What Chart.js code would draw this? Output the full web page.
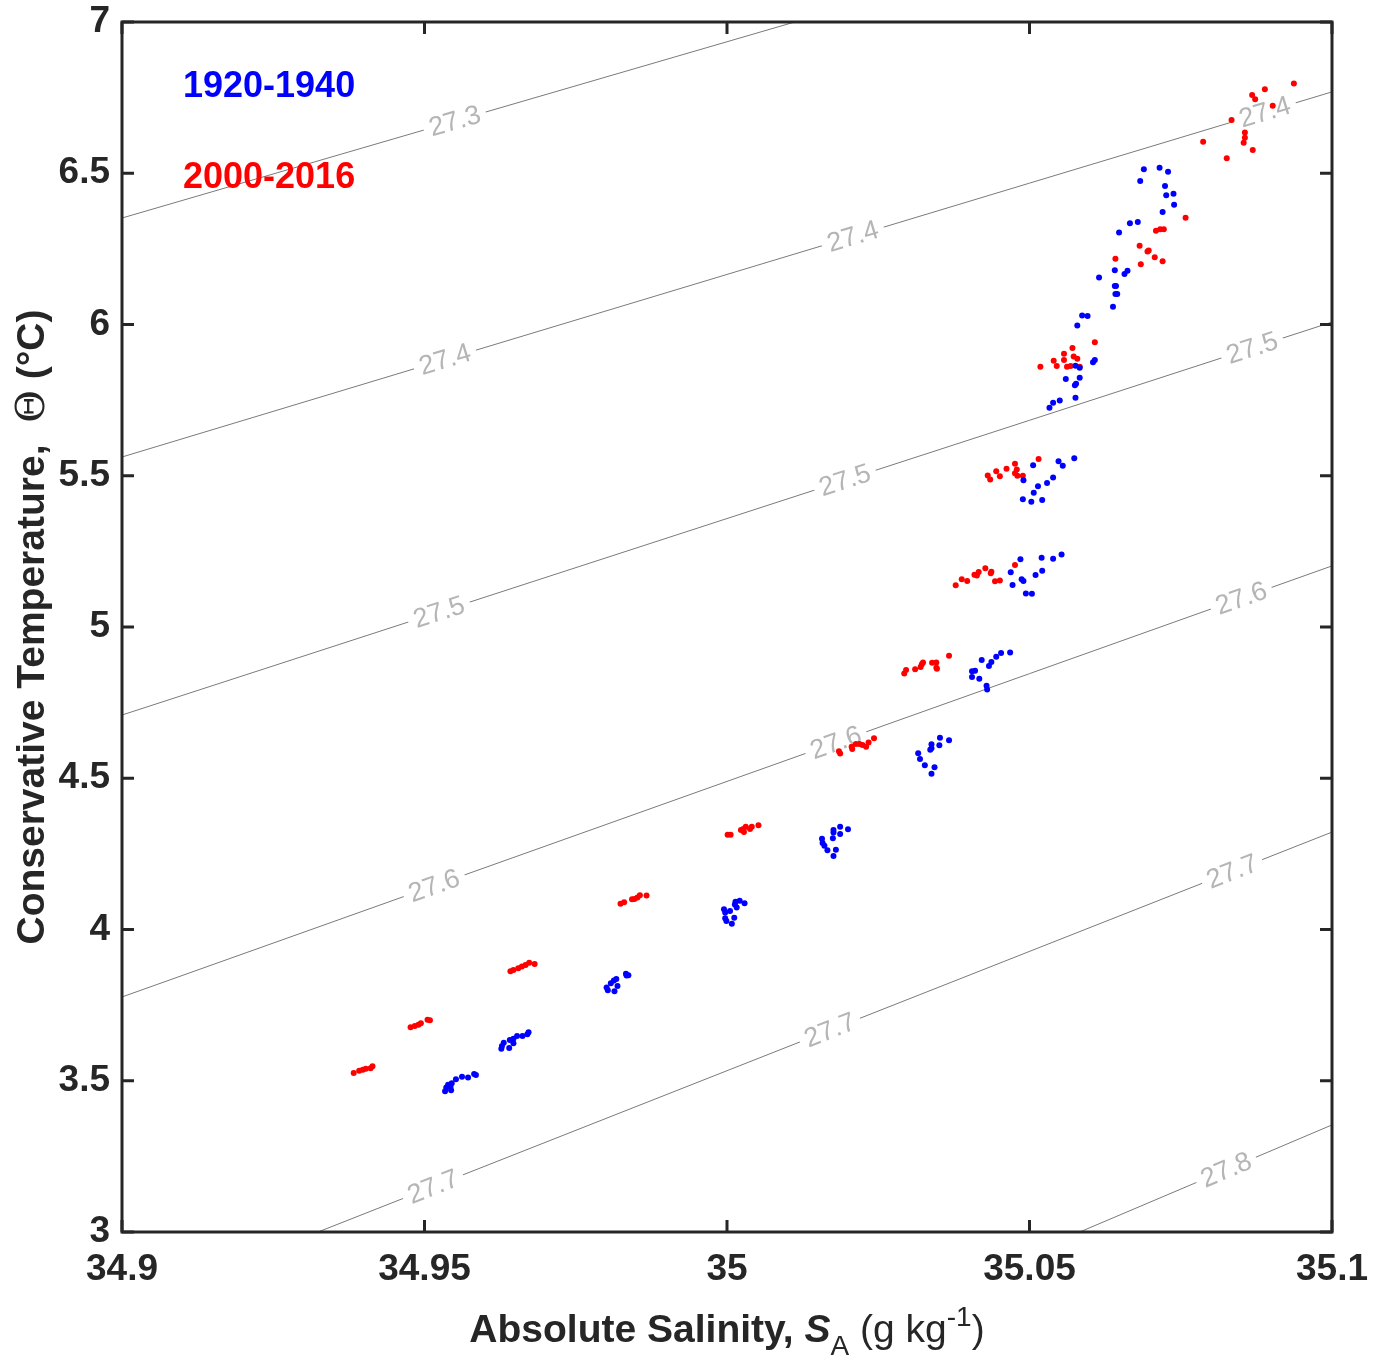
<!DOCTYPE html>
<html>
<head>
<meta charset="utf-8">
<script src="https://cdn.jsdelivr.net/npm/chart.js@4.4.0/dist/chart.umd.min.js"></script>
<style>
  body { margin: 0; background: #fff; }
  canvas { display: block; }
</style>
</head>
<body>
<canvas id="tsChart" width="1384" height="1361"></canvas>
<script>
// axis ticks
const xTickValues = [34.9, 34.95, 35, 35.05, 35.1];
const xTickLabels = ['34.9', '34.95', '35', '35.05', '35.1'];
const yTickValues = [3, 3.5, 4, 4.5, 5, 5.5, 6, 6.5, 7];
const yTickLabels = ['3', '3.5', '4', '4.5', '5', '5.5', '6', '6.5', '7'];

// 1920-1940 profiles (blue)
const blueS = [
  35.0689, 35.0715, 35.0729, 35.0683, 35.0724, 35.0726, 35.0738, 35.0739, 35.0720, 35.0679, 35.0666, 35.0648,
  35.0641, 35.0662, 35.0657, 35.0615, 35.0641, 35.0643, 35.0642, 35.0645, 35.0638, 35.0587, 35.0596, 35.0579,
  35.0608, 35.0605, 35.0576, 35.0583, 35.0583, 35.0560, 35.0577, 35.0575, 35.0576, 35.0550, 35.0539, 35.0533,
  35.0574, 35.0506, 35.0548, 35.0555, 35.0490, 35.0539, 35.0529, 35.0514, 35.0507, 35.0489, 35.0503, 35.0521,
  35.0553, 35.0520, 35.0539, 35.0485, 35.0469, 35.0521, 35.0510, 35.0487, 35.0490, 35.0472, 35.0494, 35.0504,
  35.0468, 35.0453, 35.0445, 35.0421, 35.0437, 35.0433, 35.0405, 35.0410, 35.0405, 35.0417, 35.0429, 35.0430,
  35.0352, 35.0367, 35.0338, 35.0351, 35.0338, 35.0336, 35.0316, 35.0319, 35.0327, 35.0343, 35.0338,
  35.0200, 35.0187, 35.0176, 35.0176, 35.0187, 35.0175, 35.0157, 35.0158, 35.0161, 35.0166, 35.0180, 35.0176,
  35.0029, 35.0021, 35.0014, 35.0013, 35.0016, 35.0005, 34.9995, 34.9997, 34.9997, 34.9999, 35.0012, 35.0008,
  34.9833, 34.9837, 34.9834, 34.9817, 34.9813, 34.9808, 34.9819, 34.9801, 34.9803, 34.9814,
  34.9672, 34.9670, 34.9662, 34.9653, 34.9647, 34.9641, 34.9647, 34.9631, 34.9628, 34.9640, 34.9627,
  34.9585, 34.9582, 34.9572, 34.9562, 34.9552, 34.9545, 34.9539, 34.9543, 34.9536, 34.9544, 34.9534
];
const blueT = [
  6.513, 6.518, 6.505, 6.474, 6.458, 6.427, 6.432, 6.396, 6.372, 6.339, 6.335, 6.304,
  6.179, 6.178, 6.167, 6.155, 6.127, 6.127, 6.101, 6.101, 6.059, 6.030, 6.028, 5.997,
  5.883, 5.875, 5.864, 5.857, 5.824, 5.820, 5.804, 5.799, 5.758, 5.749, 5.741, 5.725,
  5.558, 5.535, 5.548, 5.533, 5.485, 5.494, 5.476, 5.465, 5.444, 5.422, 5.414, 5.420,
  5.240, 5.229, 5.226, 5.224, 5.181, 5.186, 5.172, 5.158, 5.152, 5.139, 5.111, 5.110,
  4.916, 4.914, 4.902, 4.891, 4.884, 4.871, 4.854, 4.855, 4.835, 4.829, 4.806, 4.793,
  4.634, 4.626, 4.612, 4.609, 4.599, 4.594, 4.583, 4.564, 4.543, 4.536, 4.515,
  4.331, 4.340, 4.329, 4.321, 4.316, 4.302, 4.300, 4.286, 4.277, 4.262, 4.264, 4.243,
  4.087, 4.095, 4.092, 4.083, 4.073, 4.061, 4.067, 4.056, 4.037, 4.028, 4.039, 4.019,
  3.854, 3.849, 3.848, 3.836, 3.831, 3.822, 3.813, 3.808, 3.799, 3.796,
  3.660, 3.654, 3.648, 3.648, 3.639, 3.635, 3.624, 3.626, 3.615, 3.608, 3.606,
  3.519, 3.522, 3.511, 3.513, 3.505, 3.492, 3.487, 3.480, 3.478, 3.469, 3.465
];

// 2000-2016 profiles (red)
const redS = [
  35.0937, 35.0889, 35.0868, 35.0873, 35.0902, 35.0834, 35.0856, 35.0856, 35.0854, 35.0869, 35.0787, 35.0826,
  35.0758, 35.0709, 35.0716, 35.0722, 35.0682, 35.0695, 35.0697, 35.0707, 35.0720, 35.0684, 35.0642,
  35.0608, 35.0571, 35.0557, 35.0573, 35.0579, 35.0540, 35.0557, 35.0545, 35.0518, 35.0562, 35.0568, 35.0583,
  35.0515, 35.0476, 35.0445, 35.0462, 35.0479, 35.0431, 35.0435, 35.0451, 35.0476, 35.0480, 35.0489,
  35.0476, 35.0427, 35.0416, 35.0409, 35.0413, 35.0437, 35.0436, 35.0388, 35.0397, 35.0378, 35.0443, 35.0451,
  35.0367, 35.0293, 35.0296, 35.0311, 35.0320, 35.0322, 35.0324, 35.0339, 35.0346, 35.0346, 35.0347,
  35.0243, 35.0234, 35.0230, 35.0224, 35.0219, 35.0213, 35.0206, 35.0207, 35.0185, 35.0187,
  35.0052, 35.0041, 35.0038, 35.0031, 35.0027, 35.0023, 35.0028, 35.0001, 35.0006,
  34.9867, 34.9856, 34.9852, 34.9847, 34.9843, 34.9830, 34.9824,
  34.9682, 34.9673, 34.9667, 34.9661, 34.9655, 34.9647, 34.9642,
  34.9509, 34.9505, 34.9494, 34.9490, 34.9484, 34.9477,
  34.9414, 34.9411, 34.9403, 34.9398, 34.9392, 34.9383
];
const redT = [
  6.797, 6.778, 6.759, 6.745, 6.723, 6.676, 6.635, 6.617, 6.601, 6.577, 6.604, 6.550,
  6.353, 6.310, 6.315, 6.315, 6.260, 6.241, 6.245, 6.222, 6.209, 6.199, 6.217,
  5.941, 5.922, 5.903, 5.894, 5.887, 5.880, 5.883, 5.863, 5.860, 5.860, 5.863, 5.860,
  5.555, 5.540, 5.515, 5.523, 5.521, 5.501, 5.488, 5.498, 5.508, 5.500, 5.500,
  5.205, 5.194, 5.182, 5.173, 5.170, 5.183, 5.178, 5.158, 5.152, 5.138, 5.151, 5.154,
  4.905, 4.846, 4.858, 4.860, 4.868, 4.877, 4.883, 4.882, 4.883, 4.865, 4.862,
  4.632, 4.618, 4.604, 4.610, 4.613, 4.613, 4.604, 4.597, 4.589, 4.582,
  4.345, 4.340, 4.332, 4.340, 4.332, 4.329, 4.322, 4.313, 4.313,
  4.112, 4.113, 4.106, 4.101, 4.100, 4.090, 4.085,
  3.886, 3.890, 3.883, 3.878, 3.872, 3.866, 3.862,
  3.700, 3.702, 3.690, 3.685, 3.681, 3.677,
  3.548, 3.541, 3.540, 3.536, 3.533, 3.526
];

// potential density contours (end points in S, T) and where they are labelled
const contourLevels = [27.3, 27.4, 27.5, 27.6, 27.7, 27.8];
const contourS = [[34.9, 35.0112], [34.9, 35.1], [34.9, 35.1], [34.9, 35.1], [34.9324, 35.1], [35.0583, 35.1]];
const contourT = [[6.352, 7], [5.562, 6.769], [4.709, 6.008], [3.777, 5.202], [3, 4.322], [3, 3.354]];
const contourLabelS = [
  [34.9550],
  [34.9534, 35.0208, 35.0889],
  [34.9524, 35.0195, 35.0868],
  [34.9516, 35.0180, 35.0850],
  [34.9514, 35.0170, 35.0835],
  [35.0825]
];

const FONT = '"Liberation Sans", Arial, Helvetica, sans-serif';
const INK = '#262626';

function toPoints(sArr, tArr) {
  return sArr.map((s, i) => ({ x: s, y: tArr[i] }));
}

const datasets = [
  { type: 'scatter', data: toPoints(blueS, blueT), pointRadius: 3, pointBorderWidth: 0, pointBackgroundColor: '#0000ff' },
  { type: 'scatter', data: toPoints(redS, redT), pointRadius: 3, pointBorderWidth: 0, pointBackgroundColor: '#ff0000' }
];
contourLevels.forEach((lev, k) => {
  datasets.push({
    type: 'line',
    data: toPoints(contourS[k], contourT[k]),
    borderColor: '#7a7a7a',
    borderWidth: 1,
    pointRadius: 0,
    fill: false
  });
});

// contour labels, drawn just before the red points so the points sit on top
const contourLabelPlugin = {
  id: 'contourLabels',
  beforeDatasetDraw(chart, args) {
    if (args.index !== 1) return;
    const { ctx, scales: { x, y } } = chart;
    ctx.save();
    ctx.font = '27px ' + FONT;
    ctx.textAlign = 'center';
    ctx.textBaseline = 'middle';
    contourLabelS.forEach((list, k) => {
      const s = contourS[k], t = contourT[k];
      const ang = Math.atan2(y.getPixelForValue(t[1]) - y.getPixelForValue(t[0]),
                             x.getPixelForValue(s[1]) - x.getPixelForValue(s[0]));
      const text = contourLevels[k].toFixed(1);
      const w = ctx.measureText(text).width;
      list.forEach(sv => {
        const f = (sv - s[0]) / (s[1] - s[0]);
        const tv = t[0] + f * (t[1] - t[0]);
        ctx.save();
        ctx.translate(x.getPixelForValue(sv), y.getPixelForValue(tv));
        ctx.rotate(ang);
        ctx.fillStyle = '#fff';
        ctx.fillRect(-w / 2 - 6, -3, w + 12, 6);
        ctx.fillStyle = '#b5b5b5';
        ctx.fillText(text, 0, 1);
        ctx.restore();
      });
    });
    ctx.restore();
  }
};

function drawPieces(ctx, pieces, x0, y0) {
  let cx = x0;
  pieces.forEach(p => {
    ctx.font = p.font;
    ctx.fillText(p.text, cx, y0 + (p.dy || 0));
    cx += ctx.measureText(p.text).width;
  });
}
function piecesWidth(ctx, pieces) {
  return pieces.reduce((sum, p) => { ctx.font = p.font; return sum + ctx.measureText(p.text).width; }, 0);
}

// box, inward ticks, axis titles and the period labels
const framePlugin = {
  id: 'frame',
  afterDraw(chart) {
    const { ctx, chartArea: a, scales: { x, y } } = chart;
    ctx.save();
    ctx.strokeStyle = INK;
    ctx.lineWidth = 3;
    ctx.strokeRect(a.left, a.top, a.right - a.left, a.bottom - a.top);
    const tl = 12;
    ctx.beginPath();
    xTickValues.forEach(v => {
      const px = x.getPixelForValue(v);
      ctx.moveTo(px, a.bottom); ctx.lineTo(px, a.bottom - tl);
      ctx.moveTo(px, a.top); ctx.lineTo(px, a.top + tl);
    });
    yTickValues.forEach(v => {
      const py = y.getPixelForValue(v);
      ctx.moveTo(a.left, py); ctx.lineTo(a.left + tl, py);
      ctx.moveTo(a.right, py); ctx.lineTo(a.right - tl, py);
    });
    ctx.stroke();

    ctx.fillStyle = INK;
    ctx.textBaseline = 'alphabetic';
    ctx.textAlign = 'left';
    const xTitle = [
      { text: 'Absolute Salinity, ', font: 'bold 39px ' + FONT },
      { text: 'S', font: 'italic bold 39px ' + FONT },
      { text: 'A', font: '28px ' + FONT, dy: 13 },
      { text: ' (g kg', font: '39px ' + FONT },
      { text: '-1', font: '28px ' + FONT, dy: -16 },
      { text: ')', font: '39px ' + FONT }
    ];
    const xw = piecesWidth(ctx, xTitle);
    drawPieces(ctx, xTitle, (a.left + a.right) / 2 - xw / 2, 1342);

    const yTitle = [
      { text: 'Conservative Temperature,  ', font: 'bold 39px ' + FONT },
      { text: '\u0398', font: '40px "DejaVu Serif", serif' },
      { text: ' (\u00B0C)', font: 'bold 39px ' + FONT }
    ];
    const yw = piecesWidth(ctx, yTitle);
    ctx.save();
    ctx.translate(44, (a.top + a.bottom) / 2);
    ctx.rotate(-Math.PI / 2);
    drawPieces(ctx, yTitle, -yw / 2, 0);
    ctx.restore();

    ctx.font = 'bold 36px ' + FONT;
    ctx.fillStyle = '#0000ff';
    ctx.fillText('1920-1940', a.left + 61, a.top + 75);
    ctx.fillStyle = '#ff0000';
    ctx.fillText('2000-2016', a.left + 61, a.top + 166);
    ctx.restore();
  }
};

new Chart(document.getElementById('tsChart'), {
  data: { datasets: datasets },
  options: {
    responsive: false,
    animation: false,
    layout: { padding: { top: 22, right: 52, left: 0, bottom: 0 } },
    plugins: { legend: { display: false }, tooltip: { enabled: false } },
    scales: {
      x: {
        type: 'linear',
        min: 34.9,
        max: 35.1,
        grid: { display: false, drawTicks: false },
        border: { display: false },
        afterBuildTicks: s => { s.ticks = xTickValues.map(v => ({ value: v })); },
        afterFit: s => { s.height = 129; s.paddingLeft = 0; s.paddingRight = 0; },
        ticks: {
          callback: (v, i) => xTickLabels[i],
          font: { family: FONT, size: 37, weight: 'bold' },
          color: INK,
          padding: 16,
          maxRotation: 0,
          autoSkip: false
        }
      },
      y: {
        type: 'linear',
        min: 3,
        max: 7,
        grid: { display: false, drawTicks: false },
        border: { display: false },
        afterBuildTicks: s => { s.ticks = yTickValues.map(v => ({ value: v })); },
        afterFit: s => { s.width = 122; s.paddingTop = 0; s.paddingBottom = 0; },
        ticks: {
          callback: (v, i) => yTickLabels[i],
          font: { family: FONT, size: 37, weight: 'bold' },
          color: INK,
          padding: 12,
          autoSkip: false
        }
      }
    }
  },
  plugins: [contourLabelPlugin, framePlugin]
});
</script>
</body>
</html>
